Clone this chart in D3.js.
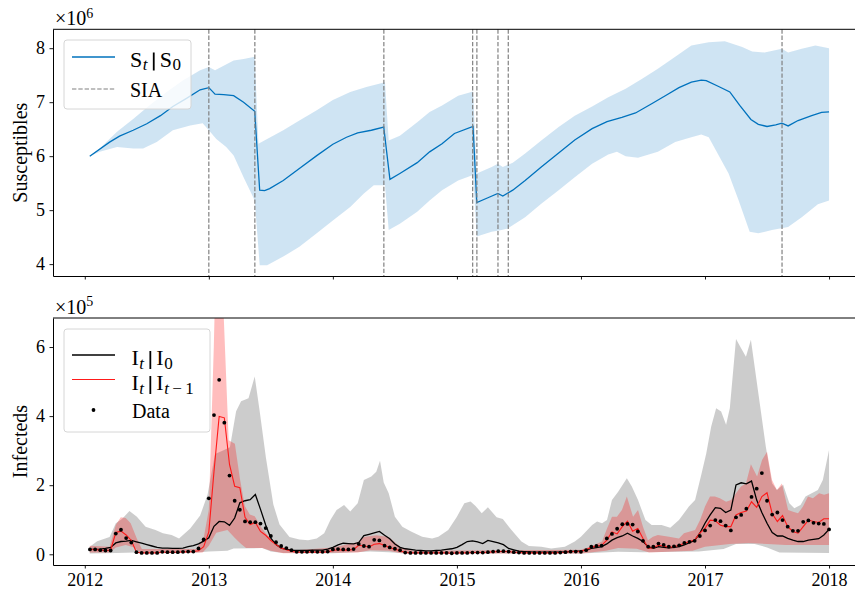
<!DOCTYPE html>
<html>
<head>
<meta charset="utf-8">
<script src="https://cdn.jsdelivr.net/npm/d3@7"></script>
<style>
body { margin: 0; background: #fff; }
</style>
</head>
<body>
<svg id="fig" width="855" height="589" font-family="Liberation Serif"></svg>
<script>
var year_ticks = [2012, 2013, 2014, 2015, 2016, 2017, 2018];
var s_ticks = [4, 5, 6, 7, 8];
var i_ticks = [0, 2, 4, 6];
var sia_dates = [2013.0, 2013.371, 2014.411, 2015.127, 2015.161, 2015.331, 2015.414, 2017.621];

// susceptibles, x 1e6
var s_mean_time = [2012.04, 2012.20, 2012.28, 2012.39, 2012.50, 2012.61, 2012.71, 2012.82, 2012.93, 2013.00,
	2013.05, 2013.12, 2013.20, 2013.28, 2013.37, 2013.41, 2013.45, 2013.49, 2013.60, 2013.73,
	2013.87, 2014.00, 2014.11, 2014.20, 2014.31, 2014.41, 2014.46, 2014.54, 2014.68, 2014.78,
	2014.88, 2014.98, 2015.13, 2015.16, 2015.25, 2015.33, 2015.37, 2015.45, 2015.55, 2015.68,
	2015.82, 2015.95, 2016.09, 2016.21, 2016.33, 2016.44, 2016.57, 2016.68, 2016.79, 2016.89,
	2016.97, 2017.01, 2017.11, 2017.20, 2017.28, 2017.37, 2017.43, 2017.50, 2017.57, 2017.62,
	2017.67, 2017.75, 2017.86, 2017.94, 2018.00];
var s_mean = [6.00, 6.26, 6.37, 6.48, 6.60, 6.75, 6.92, 7.07, 7.23, 7.27,
	7.15, 7.14, 7.12, 7.00, 6.83, 5.37, 5.36, 5.40, 5.55, 5.77,
	6.01, 6.22, 6.35, 6.43, 6.48, 6.54, 5.57, 5.68, 5.88, 6.08,
	6.23, 6.42, 6.55, 5.14, 5.23, 5.31, 5.26, 5.37, 5.55, 5.80,
	6.06, 6.30, 6.51, 6.64, 6.72, 6.80, 6.97, 7.12, 7.27, 7.37,
	7.41, 7.40, 7.29, 7.19, 6.94, 6.68, 6.59, 6.55, 6.58, 6.61,
	6.56, 6.66, 6.75, 6.81, 6.82];
var s_upper_time = [2012.04, 2012.12, 2012.26, 2012.39, 2012.52, 2012.66, 2012.79, 2012.93, 2013.00, 2013.05,
	2013.10, 2013.20, 2013.28, 2013.37, 2013.40, 2013.47, 2013.60, 2013.73, 2013.87, 2014.00,
	2014.14, 2014.27, 2014.42, 2014.45, 2014.54, 2014.68, 2014.78, 2014.88, 2015.01, 2015.13,
	2015.16, 2015.28, 2015.33, 2015.37, 2015.45, 2015.55, 2015.68, 2015.82, 2015.95, 2016.09,
	2016.22, 2016.36, 2016.49, 2016.62, 2016.76, 2016.89, 2017.03, 2017.16, 2017.30, 2017.38,
	2017.48, 2017.62, 2017.67, 2017.78, 2017.89, 2018.00];
var s_upper = [6.00, 6.14, 6.45, 6.69, 6.94, 7.19, 7.40, 7.59, 7.65, 7.59,
	7.65, 7.77, 7.80, 7.84, 6.23, 6.32, 6.48, 6.66, 6.85, 7.04,
	7.19, 7.28, 7.37, 6.29, 6.38, 6.63, 6.82, 6.94, 7.12, 7.20,
	5.68, 5.80, 5.86, 5.80, 5.88, 6.05, 6.29, 6.54, 6.75, 6.92,
	7.09, 7.25, 7.43, 7.62, 7.84, 8.05, 8.11, 8.13, 8.02, 7.94,
	7.92, 7.99, 7.92, 7.99, 8.05, 8.00];
var s_lower_time = [2012.04, 2012.12, 2012.26, 2012.39, 2012.47, 2012.58, 2012.71, 2012.85, 2012.95, 2013.00,
	2013.06, 2013.14, 2013.20, 2013.28, 2013.37, 2013.41, 2013.47, 2013.60, 2013.73, 2013.87,
	2014.00, 2014.14, 2014.25, 2014.33, 2014.42, 2014.45, 2014.54, 2014.68, 2014.78, 2014.88,
	2015.01, 2015.13, 2015.16, 2015.28, 2015.36, 2015.41, 2015.55, 2015.68, 2015.82, 2015.95,
	2016.09, 2016.22, 2016.29, 2016.36, 2016.46, 2016.62, 2016.76, 2016.89, 2016.97, 2017.03,
	2017.19, 2017.27, 2017.36, 2017.43, 2017.54, 2017.67, 2017.78, 2017.91, 2018.00];
var s_lower = [6.00, 6.08, 6.17, 6.14, 6.14, 6.26, 6.48, 6.57, 6.61, 6.48,
	6.32, 6.17, 6.01, 5.61, 5.18, 3.98, 3.98, 4.14, 4.32, 4.57,
	4.81, 5.06, 5.31, 5.46, 5.46, 4.63, 4.75, 4.97, 5.18, 5.37,
	5.55, 5.65, 4.51, 4.60, 4.63, 4.66, 4.87, 5.12, 5.37, 5.61,
	5.86, 6.03, 6.08, 6.00, 5.97, 6.08, 6.26, 6.35, 6.40, 6.35,
	5.68, 5.19, 4.60, 4.57, 4.63, 4.69, 4.87, 5.11, 5.18];

// infecteds, x 1e5, semi-monthly starting 2012 + 1/24
var i_data = [0.14, 0.14, 0.12, 0.11, 0.11, 0.60, 0.71, 0.47, 0.34, 0.06,
	0.04, 0.04, 0.04, 0.04, 0.07, 0.06, 0.06, 0.06, 0.07, 0.08,
	0.08, 0.17, 0.43, 1.62, 4.03, 5.05, 3.81, 2.28, 1.55, 1.29,
	0.95, 0.93, 0.93, 0.89, 0.76, 0.53, 0.35, 0.24, 0.18, 0.12,
	0.07, 0.07, 0.07, 0.08, 0.07, 0.07, 0.08, 0.14, 0.15, 0.14,
	0.14, 0.15, 0.30, 0.24, 0.22, 0.42, 0.40, 0.25, 0.20, 0.16,
	0.12, 0.05, 0.04, 0.04, 0.04, 0.04, 0.04, 0.04, 0.04, 0.04,
	0.03, 0.04, 0.04, 0.04, 0.05, 0.05, 0.05, 0.06, 0.08, 0.09,
	0.09, 0.08, 0.06, 0.05, 0.04, 0.04, 0.04, 0.04, 0.04, 0.04,
	0.04, 0.05, 0.06, 0.08, 0.08, 0.07, 0.12, 0.22, 0.24, 0.25,
	0.46, 0.59, 0.74, 0.87, 0.88, 0.86, 0.66, 0.39, 0.22, 0.22,
	0.31, 0.27, 0.22, 0.23, 0.26, 0.33, 0.36, 0.39, 0.53, 0.69,
	0.83, 0.99, 0.96, 0.83, 0.69, 1.07, 1.14, 1.32, 1.66, 1.90,
	2.35, 1.55, 1.15, 1.21, 0.99, 0.80, 0.68, 0.68, 0.94, 0.98,
	0.91, 0.89, 0.88, 0.72];
var i_given_i0 = [0.14, 0.14, 0.15, 0.17, 0.20, 0.33, 0.37, 0.38, 0.40, 0.36,
	0.32, 0.28, 0.24, 0.20, 0.18, 0.18, 0.17, 0.17, 0.18, 0.22,
	0.25, 0.30, 0.38, 0.48, 0.81, 0.95, 0.94, 0.84, 1.05, 1.49,
	1.55, 1.58, 1.73, 1.30, 0.85, 0.47, 0.28, 0.18, 0.14, 0.12,
	0.11, 0.11, 0.11, 0.12, 0.12, 0.12, 0.15, 0.20, 0.27, 0.32,
	0.31, 0.30, 0.34, 0.54, 0.58, 0.62, 0.66, 0.55, 0.45, 0.30,
	0.20, 0.16, 0.14, 0.12, 0.11, 0.10, 0.10, 0.11, 0.12, 0.14,
	0.16, 0.20, 0.28, 0.37, 0.39, 0.36, 0.31, 0.40, 0.37, 0.33,
	0.28, 0.17, 0.13, 0.09, 0.08, 0.07, 0.06, 0.06, 0.06, 0.06,
	0.06, 0.06, 0.07, 0.08, 0.09, 0.10, 0.12, 0.17, 0.19, 0.22,
	0.30, 0.41, 0.48, 0.53, 0.61, 0.53, 0.46, 0.37, 0.22, 0.17,
	0.22, 0.20, 0.19, 0.20, 0.22, 0.27, 0.34, 0.40, 0.61, 0.90,
	1.14, 1.35, 1.33, 1.21, 1.28, 2.01, 2.07, 2.04, 2.12, 1.57,
	1.21, 0.90, 0.63, 0.53, 0.53, 0.46, 0.41, 0.37, 0.37, 0.41,
	0.43, 0.45, 0.56, 0.72];
var i_given_prev = [0.14, 0.14, 0.12, 0.11, 0.12, 0.63, 0.67, 0.56, 0.40, 0.06,
	0.04, 0.04, 0.04, 0.04, 0.06, 0.06, 0.06, 0.06, 0.07, 0.07,
	0.08, 0.10, 0.22, 0.65, 2.40, 3.99, 3.95, 2.60, 1.97, 1.93,
	1.07, 0.86, 0.92, 0.66, 0.55, 0.40, 0.28, 0.18, 0.13, 0.09,
	0.06, 0.06, 0.06, 0.07, 0.06, 0.06, 0.07, 0.11, 0.13, 0.12,
	0.12, 0.14, 0.26, 0.24, 0.21, 0.29, 0.31, 0.26, 0.19, 0.15,
	0.10, 0.05, 0.04, 0.04, 0.04, 0.04, 0.04, 0.04, 0.04, 0.04,
	0.03, 0.04, 0.04, 0.04, 0.05, 0.05, 0.05, 0.06, 0.07, 0.08,
	0.08, 0.08, 0.06, 0.05, 0.04, 0.04, 0.04, 0.04, 0.04, 0.04,
	0.04, 0.05, 0.06, 0.08, 0.08, 0.09, 0.13, 0.20, 0.24, 0.26,
	0.41, 0.65, 0.59, 0.80, 0.96, 0.67, 0.75, 0.46, 0.17, 0.19,
	0.26, 0.24, 0.20, 0.22, 0.26, 0.32, 0.37, 0.41, 0.61, 0.75,
	0.99, 0.97, 0.84, 0.80, 0.80, 1.14, 1.21, 1.25, 1.52, 1.36,
	1.67, 1.78, 1.18, 0.95, 1.12, 0.80, 0.66, 0.61, 0.80, 0.99,
	0.95, 0.92, 1.03, 1.03];

var gray_upper_time = [2012.04, 2012.10, 2012.20, 2012.25, 2012.30, 2012.36, 2012.42, 2012.49, 2012.57, 2012.63,
	2012.70, 2012.76, 2012.85, 2012.93, 2012.99, 2013.05, 2013.11, 2013.17, 2013.22, 2013.26,
	2013.32, 2013.37, 2013.41, 2013.46, 2013.52, 2013.57, 2013.65, 2013.73, 2013.80, 2013.87,
	2013.93, 2013.98, 2014.03, 2014.09, 2014.14, 2014.20, 2014.25, 2014.31, 2014.35, 2014.38,
	2014.41, 2014.45, 2014.50, 2014.56, 2014.63, 2014.72, 2014.80, 2014.85, 2014.93, 2015.00,
	2015.06, 2015.11, 2015.15, 2015.20, 2015.25, 2015.32, 2015.37, 2015.44, 2015.52, 2015.58,
	2015.68, 2015.76, 2015.87, 2015.95, 2016.00, 2016.09, 2016.13, 2016.17, 2016.21, 2016.25,
	2016.30, 2016.37, 2016.41, 2016.46, 2016.52, 2016.57, 2016.65, 2016.72, 2016.79, 2016.87,
	2016.92, 2016.97, 2017.01, 2017.05, 2017.09, 2017.13, 2017.17, 2017.20, 2017.25, 2017.29,
	2017.33, 2017.37, 2017.43, 2017.49, 2017.54, 2017.58, 2017.63, 2017.68, 2017.72, 2017.77,
	2017.81, 2017.86, 2017.91, 2017.95, 2018.00];
var gray_upper = [0.22, 0.38, 0.50, 0.90, 1.02, 1.25, 1.09, 0.80, 0.70, 0.61,
	0.56, 0.46, 0.75, 1.12, 1.73, 2.90, 3.00, 3.10, 4.14, 4.43,
	4.52, 5.15, 4.14, 2.80, 1.44, 0.86, 0.50, 0.43, 0.41, 0.46,
	0.61, 0.99, 1.28, 1.43, 1.24, 1.48, 2.15, 2.25, 2.39, 2.71,
	2.08, 1.77, 1.09, 0.80, 0.66, 0.51, 0.46, 0.51, 0.70, 1.09,
	1.48, 1.53, 1.40, 1.19, 1.36, 1.07, 1.02, 0.70, 0.37, 0.24,
	0.22, 0.17, 0.22, 0.37, 0.51, 0.85, 0.95, 0.90, 0.99, 1.57,
	1.81, 2.20, 1.96, 1.57, 0.99, 0.85, 0.85, 0.77, 0.99, 1.38,
	1.57, 2.30, 2.92, 3.70, 4.23, 4.13, 3.75, 4.23, 6.23, 5.97,
	5.72, 6.21, 4.66, 3.12, 2.06, 1.86, 2.01, 1.48, 1.33, 1.43,
	1.67, 1.77, 1.86, 2.15, 3.02];
var gray_lower_time = [2012.04, 2012.25, 2012.40, 2012.90, 2013.00, 2013.15, 2013.20, 2013.43, 2013.50, 2013.60,
	2014.00, 2014.30, 2014.45, 2014.60, 2016.00, 2016.30, 2016.50, 2016.95, 2017.15, 2017.25,
	2017.40, 2017.50, 2017.60, 2018.00];
var gray_lower = [0.02, 0.04, 0.05, 0.05, 0.08, 0.10, 0.17, 0.18, 0.08, 0.04,
	0.03, 0.08, 0.06, 0.02, 0.02, 0.07, 0.06, 0.08, 0.15, 0.30,
	0.30, 0.20, 0.05, 0.04];

var red_upper_time = [2012.04, 2012.20, 2012.25, 2012.29, 2012.33, 2012.37, 2012.42, 2012.46, 2012.90, 2012.96,
	2013.00, 2013.04, 2013.06, 2013.10, 2013.12, 2013.16, 2013.21, 2013.25, 2013.29, 2013.33,
	2013.37, 2013.42, 2013.46, 2013.50, 2013.55, 2013.60, 2013.70, 2014.00, 2014.20, 2014.25,
	2014.35, 2014.45, 2014.55, 2014.65, 2016.00, 2016.07, 2016.17, 2016.21, 2016.25, 2016.29,
	2016.33, 2016.37, 2016.42, 2016.46, 2016.50, 2016.54, 2016.58, 2016.62, 2016.71, 2016.79,
	2016.83, 2016.92, 2016.96, 2017.00, 2017.04, 2017.08, 2017.12, 2017.17, 2017.21, 2017.25,
	2017.29, 2017.33, 2017.37, 2017.42, 2017.46, 2017.50, 2017.54, 2017.58, 2017.62, 2017.67,
	2017.71, 2017.75, 2017.79, 2017.83, 2017.87, 2017.92, 2017.96, 2018.00];
var red_upper = [0.25, 0.22, 0.85, 1.07, 1.05, 0.90, 0.45, 0.15, 0.15, 0.50,
	1.30, 6.00, 9.00, 9.00, 6.90, 3.30, 3.20, 2.20, 1.40, 1.15,
	1.10, 0.80, 0.60, 0.45, 0.30, 0.20, 0.12, 0.20, 0.35, 0.50,
	0.55, 0.50, 0.20, 0.10, 0.13, 0.22, 0.37, 0.75, 1.09, 1.09,
	1.28, 1.67, 1.09, 1.28, 0.80, 0.41, 0.51, 0.56, 0.51, 0.46,
	0.61, 0.70, 0.99, 1.38, 1.67, 1.67, 1.62, 1.52, 1.57, 1.77,
	1.96, 2.05, 2.61, 2.25, 2.73, 2.97, 2.15, 1.86, 2.05, 1.28,
	1.23, 1.19, 1.38, 1.67, 1.62, 1.77, 1.72, 1.77];
var red_lower_time = [2012.04, 2012.20, 2012.25, 2012.33, 2012.40, 2012.45, 2012.95, 2013.00, 2013.06, 2013.15,
	2013.21, 2013.26, 2013.30, 2013.43, 2013.50, 2013.60, 2014.20, 2014.30, 2014.45, 2014.55,
	2016.00, 2016.20, 2016.30, 2016.45, 2016.55, 2016.90, 2017.00, 2017.20, 2017.35, 2017.50,
	2017.65, 2017.80, 2018.00];
var red_lower = [0.05, 0.05, 0.20, 0.27, 0.20, 0.02, 0.05, 0.25, 0.62, 0.70,
	0.47, 0.30, 0.18, 0.18, 0.10, 0.03, 0.05, 0.12, 0.10, 0.03,
	0.02, 0.10, 0.18, 0.16, 0.05, 0.10, 0.22, 0.30, 0.33, 0.30,
	0.27, 0.27, 0.27];

var serif = 'Liberation Serif';
var font_ticks = 18, font_text = 20;
var svg = d3.select('#fig');

var i_time = d3.range(i_data.length).map(k => 2012 + (k+1)/24);
var t_first = i_time[0], t_last = i_time[i_time.length-1];
var t_pad = 0.05*(t_last - t_first);
var x_left = 53, x_right = 866;
var x_scale = d3.scaleLinear().domain([t_first - t_pad, t_last + t_pad]).range([x_left, x_right]);

var top_box = [29.3, 276], bot_box = [318, 565];
var y_s = d3.scaleLinear().domain([3.78, 8.35]).range([top_box[1], top_box[0]]);
var y_i = d3.scaleLinear().domain([-0.31, 6.84]).range([bot_box[1], bot_box[0]]);

var defs = svg.append('defs');
[['clip_top', top_box], ['clip_bot', bot_box]].forEach(function(c)  {
	defs.append('clipPath').attr('id', c[0]).append('rect')
		.attr('x', x_left).attr('y', c[1][0]).attr('width', x_right-x_left).attr('height', c[1][1]-c[1][0]);
});

function band_path(y_scale, t_hi, v_hi, t_lo, v_lo)  {
	var pts = t_hi.map((t,i) => [x_scale(t), y_scale(v_hi[i])]);
	var lo = t_lo.map((t,i) => [x_scale(t), y_scale(v_lo[i])]).reverse();
	return d3.line()(pts.concat(lo)) + 'Z';
}

function series_line(y_scale, times, values)  {
	return d3.line().x((d,i) => x_scale(times[i])).y(d => y_scale(d))(values);
}

// ---- top panel: susceptibles
var g_top = svg.append('g').attr('clip-path', 'url(#clip_top)');
g_top.append('path').attr('d', band_path(y_s, s_upper_time, s_upper, s_lower_time, s_lower))
	.attr('fill', '#0072bd').attr('fill-opacity', 0.19).attr('stroke', 'none');
g_top.append('path').attr('d', series_line(y_s, s_mean_time, s_mean))
	.attr('fill', 'none').attr('stroke', '#0072bd').attr('stroke-width', 1.3);
g_top.selectAll('.sia').data(sia_dates).enter().append('line').attr('class', 'sia')
	.attr('x1', d => x_scale(d)).attr('x2', d => x_scale(d))
	.attr('y1', top_box[0]).attr('y2', top_box[1])
	.attr('stroke', '#808080').attr('stroke-width', 1.2).attr('stroke-dasharray', '4.4,1.9');

// ---- bottom panel: infecteds
var g_bot = svg.append('g').attr('clip-path', 'url(#clip_bot)');
g_bot.append('path').attr('d', band_path(y_i, gray_upper_time, gray_upper, gray_lower_time, gray_lower))
	.attr('fill', '#808080').attr('fill-opacity', 0.4).attr('stroke', 'none');
g_bot.append('path').attr('d', band_path(y_i, red_upper_time, red_upper, red_lower_time, red_lower))
	.attr('fill', '#ff0000').attr('fill-opacity', 0.26).attr('stroke', 'none');
g_bot.append('path').attr('d', series_line(y_i, i_time, i_given_i0))
	.attr('fill', 'none').attr('stroke', '#000').attr('stroke-width', 1.3);
g_bot.append('path').attr('d', series_line(y_i, i_time, i_given_prev))
	.attr('fill', 'none').attr('stroke', '#ff1a1a').attr('stroke-width', 1.1);
g_bot.selectAll('.dot').data(i_data).enter().append('circle').attr('class', 'dot')
	.attr('cx', (d,i) => x_scale(i_time[i])).attr('cy', d => y_i(d)).attr('r', 1.9).attr('fill', '#000');

// ---- frames and axes
function draw_frame(y_scale, ticks, box, label, exponent, show_years)  {
	var ax_l = svg.append('g').attr('transform', 'translate(' + x_left + ',0)')
		.call(d3.axisLeft(y_scale).tickValues(ticks).tickFormat(d3.format('d'))
			.tickSize(3.5).tickPadding(4.5).tickSizeOuter(0));
	var ax_b = svg.append('g').attr('transform', 'translate(0,' + box[1] + ')')
		.call(d3.axisBottom(x_scale).tickValues(year_ticks).tickSize(3.5).tickPadding(5).tickSizeOuter(0)
			.tickFormat(show_years ? d3.format('d') : ''));
	[ax_l, ax_b].forEach(function(a)  {
		a.attr('font-family', serif).attr('font-size', font_ticks);
		a.selectAll('.domain').attr('stroke', '#000').attr('stroke-width', 1);
		a.selectAll('.tick line').attr('stroke', '#000').attr('stroke-width', 0.9);
		a.selectAll('text').attr('fill', '#000').attr('font-family', serif);
	});
	svg.append('line').attr('x1', x_left).attr('x2', x_right).attr('y1', box[0]).attr('y2', box[0])
		.attr('stroke', '#000').attr('stroke-width', 1);
	svg.append('line').attr('x1', x_right).attr('x2', x_right).attr('y1', box[0]).attr('y2', box[1])
		.attr('stroke', '#000').attr('stroke-width', 1);

	svg.append('text').attr('transform', 'translate(27,' + (box[0]+box[1])/2 + ') rotate(-90)')
		.attr('font-family', serif).attr('text-anchor', 'middle').attr('font-size', font_text).text(label);

	var off = svg.append('text').attr('x', 55).attr('y', box[0]-4.3)
		.attr('font-family', serif).attr('font-size', 20);
	off.append('tspan').text('\u00d710');
	off.append('tspan').attr('font-size', 14).attr('dy', -7.5).text(exponent);
}

draw_frame(y_s, s_ticks, top_box, 'Susceptibles', '6', false);
draw_frame(y_i, i_ticks, bot_box, 'Infecteds', '5', true);

// ---- legends
function math_label(x, y, base1, sub1, base2, sub2)  {
	// "base1_sub1 | base2_sub2", subscripts may contain an italic t
	var t1 = svg.append('text').attr('x', x).attr('y', y).attr('font-family', serif);
	t1.append('tspan').attr('font-size', 22).text(base1);
	add_sub(t1, sub1);
	var w = t1.node().getBBox();
	var bar_x = w.x + w.width + 5;
	svg.append('line').attr('x1', bar_x).attr('x2', bar_x).attr('y1', y-14).attr('y2', y+4)
		.attr('stroke', '#000').attr('stroke-width', 1.8);
	var t2 = svg.append('text').attr('x', bar_x + 6).attr('y', y).attr('font-family', serif);
	t2.append('tspan').attr('font-size', 22).text(base2);
	add_sub(t2, sub2);
}

function add_sub(text_sel, sub)  {
	var first = true;
	sub.forEach(function(p)  {
		var ts = text_sel.append('tspan').attr('font-size', 17).text(p.t);
		if(p.it)
			ts.attr('font-style', 'italic');
		if(first)  {
			ts.attr('dy', 3.5).attr('dx', 0.5);
			first = false;
		}
	});
}

function legend_box(x, y, w, h)  {
	svg.append('rect').attr('x', x).attr('y', y).attr('width', w).attr('height', h).attr('rx', 3)
		.attr('fill', '#fff').attr('fill-opacity', 0.8).attr('stroke', '#d6d6d6').attr('stroke-width', 1);
}

legend_box(64, 40, 127, 69);
svg.append('line').attr('x1', 72).attr('x2', 115).attr('y1', 57).attr('y2', 57)
	.attr('stroke', '#0072bd').attr('stroke-width', 1.3);
math_label(130, 66.5, 'S', [{t:'t', it:true}], 'S', [{t:'0'}]);
svg.append('line').attr('x1', 72).attr('x2', 115).attr('y1', 89).attr('y2', 89)
	.attr('stroke', '#808080').attr('stroke-width', 1.2).attr('stroke-dasharray', '4.4,1.9');
svg.append('text').attr('x', 130).attr('y', 96.5).attr('font-family', serif)
	.attr('font-size', font_text).text('SIA');

legend_box(64, 329, 146, 103);
svg.append('line').attr('x1', 72).attr('x2', 115).attr('y1', 355).attr('y2', 355)
	.attr('stroke', '#000').attr('stroke-width', 1.3);
math_label(131.5, 365, 'I', [{t:'t', it:true}], 'I', [{t:'0'}]);
svg.append('line').attr('x1', 72).attr('x2', 115).attr('y1', 379.5).attr('y2', 379.5)
	.attr('stroke', '#ff1a1a').attr('stroke-width', 1.1);
math_label(131.5, 390, 'I', [{t:'t', it:true}], 'I', [{t:'t', it:true}, {t:'\u2009\u2212\u20091'}]);
svg.append('circle').attr('cx', 93.5).attr('cy', 410).attr('r', 1.9).attr('fill', '#000');
svg.append('text').attr('x', 132).attr('y', 418).attr('font-family', serif)
	.attr('font-size', font_text).text('Data');
</script>
</body>
</html>
